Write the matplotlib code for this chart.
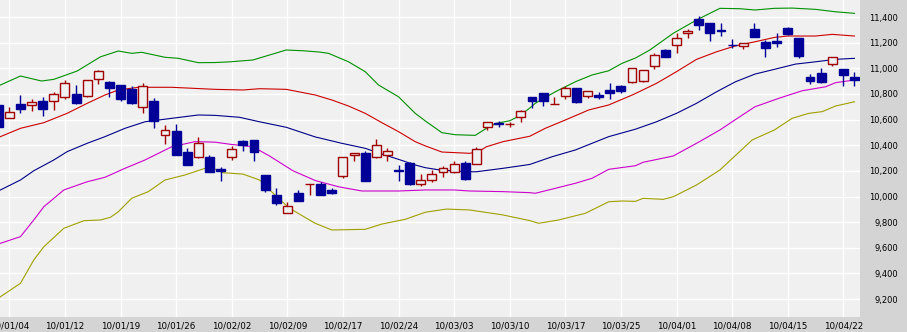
import matplotlib
matplotlib.use("Agg")
import matplotlib.pyplot as plt

# date labels, one every 5 trading days starting at day 0
date_labels = ["10/01/04", "10/01/12", "10/01/19", "10/01/26", "10/02/02", "10/02/09",
               "10/02/17", "10/02/24", "10/03/03", "10/03/10", "10/03/17", "10/03/25",
               "10/04/01", "10/04/08", "10/04/15", "10/04/22"]

# daily candles, trading day -1 .. 76
days = list(range(-1, 77))
opens = [10714, 10610, 10719, 10711, 10742, 10742, 10774, 10797, 10781, 10914,
         10895, 10867, 10836, 10700, 10742, 10477, 10511, 10347, 10310, 10306,
         10214, 10310, 10430, 10441, 10168, 10012, 9874, 10025, 10094, 10097,
         10051, 10162, 10321, 10342, 10306, 10324, 10209, 10261, 10097, 10126,
         10193, 10193, 10261, 10251, 10540, 10576, 10565, 10622, 10774, 10805,
         10721, 10786, 10844, 10786, 10794, 10831, 10862, 10895, 10903, 11020,
         11143, 11182, 11273, 11382, 11351, 11296, 11184, 11174, 11304, 11205,
         11215, 11312, 11234, 10932, 10961, 11031, 10992, 10932]
highs = [10720, 10696, 10789, 10763, 10774, 10815, 10909, 10867, 10909, 10987,
         10900, 10870, 10862, 10883, 10768, 10555, 10565, 10376, 10462, 10324,
         10232, 10394, 10441, 10441, 10168, 10069, 9955, 10051, 10099, 10115,
         10064, 10310, 10343, 10355, 10448, 10378, 10246, 10267, 10175, 10207,
         10240, 10275, 10277, 10384, 10583, 10591, 10581, 10675, 10774, 10805,
         10778, 10864, 10849, 10825, 10817, 10885, 10866, 11000, 10987, 11117,
         11150, 11273, 11306, 11408, 11356, 11351, 11228, 11200, 11356, 11221,
         11273, 11324, 11234, 10955, 11000, 11090, 10992, 10969]
lows = [10530, 10610, 10654, 10664, 10630, 10675, 10763, 10721, 10774, 10875,
        10778, 10747, 10721, 10649, 10532, 10409, 10321, 10248, 10298, 10193,
        10123, 10285, 10357, 10279, 10035, 9936, 9869, 9962, 10014, 10012,
        10017, 10147, 10279, 10123, 10300, 10279, 10123, 10087, 10082, 10115,
        10150, 10186, 10129, 10251, 10519, 10540, 10545, 10583, 10690, 10706,
        10721, 10758, 10732, 10770, 10763, 10763, 10805, 10883, 10895, 10994,
        11086, 11117, 11234, 11299, 11215, 11254, 11156, 11148, 11246, 11086,
        11164, 11260, 11083, 10875, 10888, 11018, 10864, 10864]
closes = [10542, 10657, 10680, 10735, 10680, 10797, 10885, 10732, 10906, 10981,
          10849, 10760, 10732, 10862, 10591, 10519, 10326, 10248, 10415, 10193,
          10199, 10368, 10404, 10350, 10051, 9952, 9928, 9962, 10097, 10012,
          10030, 10310, 10339, 10123, 10400, 10352, 10199, 10100, 10129, 10178,
          10220, 10253, 10136, 10368, 10583, 10568, 10568, 10664, 10747, 10747,
          10724, 10844, 10739, 10825, 10774, 10810, 10825, 11000, 10987, 11104,
          11086, 11239, 11291, 11338, 11278, 11291, 11179, 11200, 11246, 11161,
          11195, 11267, 11098, 10901, 10895, 11090, 10950, 10911]

# bollinger band lines (trading day, value)
up2_x = [-0.8, 1.0, 2.9, 4.0, 6.1, 8.2, 9.8, 11.0, 11.9, 14.0, 15.2, 17.0, 18.5, 19.9,
         21.9, 24.9, 26.4, 27.9, 28.7, 30.5, 32.0, 33.2, 35.0, 36.5, 37.4, 38.9, 40.1,
         41.9, 42.9, 43.8, 45.0, 45.9, 46.8, 47.3, 49.1, 50.9, 52.4, 53.9, 55.1, 56.3,
         57.6, 59.7, 61.8, 63.9, 65.7, 67.05, 68.8, 70.4, 72.5, 74.3, 76.0]
up2_y = [10870, 10940, 10901, 10914, 10979, 11090, 11135, 11117, 11125, 11086, 11078,
         11044, 11045, 11051, 11065, 11143, 11137, 11127, 11117, 11051, 10974, 10870,
         10778, 10649, 10590, 10498, 10482, 10477, 10532, 10571, 10591, 10630, 10690,
         10727, 10817, 10895, 10948, 10981, 11039, 11080, 11143, 11273, 11377, 11468,
         11465, 11455, 11468, 11470, 11460, 11441, 11429]
up1_x = [-0.8, 1.0, 3.1, 5.2, 7.0, 8.6, 9.8, 11.6, 14.6, 18.5, 21.0, 22.5, 24.9, 27.5,
         29.0, 30.5, 32.0, 33.5, 35.0, 36.5, 37.4, 38.9, 41.4, 42.2, 42.9, 44.4, 46.8,
         48.2, 50.0, 52.1, 53.9, 56.1, 58.2, 60.0, 61.8, 63.6, 65.3, 67.05, 68.8, 70.0,
         72.5, 74.0, 76.0]
up1_y = [10467, 10532, 10576, 10649, 10727, 10792, 10831, 10852, 10852, 10836, 10831,
         10841, 10836, 10792, 10753, 10706, 10649, 10576, 10506, 10428, 10395, 10347,
         10337, 10350, 10388, 10428, 10470, 10532, 10597, 10675, 10714, 10795, 10883,
         10974, 11070, 11129, 11175, 11207, 11241, 11252, 11252, 11265, 11252]
ma_x = [-0.8, 1.0, 2.2, 4.0, 5.2, 7.0, 8.6, 10.4, 12.2, 14.6, 17.0, 18.5, 20.7, 22.5,
        24.9, 27.5, 29.9, 32.0, 33.5, 35.0, 36.5, 37.4, 38.7, 41.1, 42.0, 44.4, 46.8,
        48.8, 50.9, 53.9, 56.3, 58.2, 60.0, 61.8, 63.6, 65.3, 67.05, 68.8, 70.7, 72.5,
        74.3, 76.0]
ma_y = [10051, 10129, 10201, 10285, 10350, 10415, 10467, 10532, 10583, 10610, 10636,
        10633, 10618, 10583, 10540, 10465, 10415, 10376, 10331, 10290, 10246, 10225,
        10207, 10193, 10193, 10220, 10250, 10310, 10363, 10467, 10525, 10583, 10649,
        10727, 10817, 10895, 10955, 10992, 11033, 11051, 11070, 11078]
lo1_x = [-0.8, 1.0, 2.2, 3.1, 4.9, 7.0, 8.6, 10.4, 12.2, 14.6, 16.7, 18.5, 19.9, 21.9,
         23.4, 25.5, 27.5, 29.6, 31.7, 35.0, 37.4, 40.0, 41.4, 44.4, 46.8, 47.3, 49.1,
         50.9, 52.4, 53.9, 56.3, 57.0, 59.7, 61.8, 63.9, 65.3, 67.05, 69.2, 71.3, 73.4,
         74.3, 76.0]
lo1_y = [9635, 9687, 9817, 9920, 10051, 10115, 10150, 10220, 10285, 10388, 10428, 10424,
         10407, 10388, 10316, 10201, 10125, 10076, 10043, 10043, 10051, 10051, 10043,
         10038, 10030, 10025, 10064, 10103, 10142, 10212, 10240, 10267, 10316, 10415,
         10519, 10600, 10700, 10766, 10825, 10856, 10888, 10909]
lo2_x = [-0.8, 1.0, 2.2, 3.1, 4.9, 6.7, 8.2, 9.1, 9.8, 11.0, 12.5, 14.0, 15.8, 17.6,
         18.5, 19.2, 21.0, 22.5, 24.05, 25.2, 27.5, 29.0, 32.0, 33.5, 35.6, 37.4, 39.3,
         41.4, 44.4, 46.8, 47.6, 49.4, 51.8, 53.9, 55.1, 56.3, 57.0, 58.8, 59.7, 61.8,
         63.9, 65.3, 66.8, 68.8, 70.4, 71.9, 73.1, 74.3, 76.0]
lo2_y = [9218, 9323, 9505, 9608, 9752, 9811, 9817, 9838, 9881, 9986, 10038, 10129,
         10168, 10220, 10215, 10186, 10175, 10129, 9998, 9908, 9791, 9739, 9744, 9785,
         9822, 9877, 9902, 9895, 9856, 9812, 9791, 9817, 9869, 9959, 9965, 9962, 9986,
         9978, 9998, 10090, 10207, 10320, 10441, 10519, 10610, 10649, 10662, 10706, 10739]

y_ticks = list(range(9200, 11401, 200))

fig = plt.figure(figsize=(9.07, 3.32), dpi=100, facecolor="#d4d4d4")
ax = fig.add_axes([0, 15 / 332, 860 / 907, 317 / 332])
ax.set_facecolor("#f0f0f0")

# grid
ax.set_xticks(range(0, 76, 5))
ax.set_xticklabels(date_labels)
ax.set_yticks(y_ticks)
ax.set_yticklabels([f"{v:,}" for v in y_ticks])
ax.grid(True, color="white", linewidth=1.0)
ax.set_axisbelow(True)

# bands
ax.plot(up2_x, up2_y, color="#009000", lw=0.8, zorder=2)
ax.plot(up1_x, up1_y, color="#cc0000", lw=0.8, zorder=2)
ax.plot(ma_x, ma_y, color="#000088", lw=0.8, zorder=2)
ax.plot(lo1_x, lo1_y, color="#cc00cc", lw=0.8, zorder=2)
ax.plot(lo2_x, lo2_y, color="#a0a000", lw=0.8, zorder=2)

# candles
up_col = "#a00000"
dn_col = "#000099"
for d, o, h, l, c in zip(days, opens, highs, lows, closes):
    col = up_col if c >= o else dn_col
    ax.vlines(d, l, h, color=col, lw=1.0, zorder=3)
    body_h = max(abs(c - o), 1)
    ax.bar(d, body_h, bottom=min(o, c), width=0.8,
           facecolor="#f0f0f0" if c >= o else dn_col,
           edgecolor=col, linewidth=1.0, zorder=4)

ax.set_xlim(-0.84, 76.5)
ax.set_ylim(9060, 11533)

ax.yaxis.tick_right()
ax.tick_params(axis="y", length=0, pad=27.5, labelsize=6)
for lab in ax.get_yticklabels():
    lab.set_horizontalalignment("right")
ax.tick_params(axis="x", length=0, pad=3, labelsize=6.3)
for s in ax.spines.values():
    s.set_visible(False)

fig.savefig("out.png", dpi=100, facecolor=fig.get_facecolor())
